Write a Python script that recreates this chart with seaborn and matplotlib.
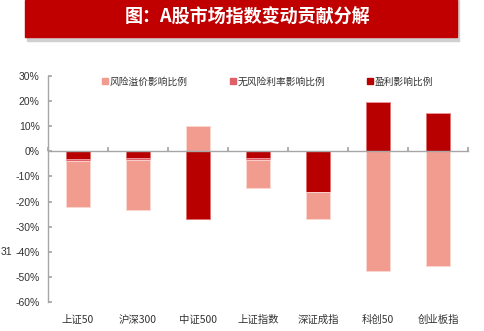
import numpy as np
import pandas as pd
import matplotlib
matplotlib.use("Agg")
import matplotlib.pyplot as plt
from matplotlib.patches import Rectangle
import seaborn as sns

sns.set_theme(style="white")
plt.rcParams["font.family"] = ["Noto Sans CJK SC", "DejaVu Sans"]

# Index names and the contribution of each factor (%)
categories = ["上证50", "沪深300", "中证500", "上证指数", "深证成指", "科创50", "创业板指"]
risk_premium = [-18.3, -19.9, 10.2, -11.1, -10.6, -47.8, -45.8]
risk_free = [-0.8, -0.8, 0.0, -0.8, -0.2, 0.0, 0.0]
earnings = [-3.2, -2.7, -27.1, -2.7, -16.0, 19.5, 15.3]
series_names = ["风险溢价影响比例", "无风险利率影响比例", "盈利影响比例"]
y_ticks = [30, 20, 10, 0, -10, -20, -30, -40, -50, -60]

colors = {"风险溢价影响比例": "#F19C8E",
          "无风险利率影响比例": "#E0606A",
          "盈利影响比例": "#B80000"}
edges = {"风险溢价影响比例": "#FBD8D2",
         "无风险利率影响比例": "#EE9AA0",
         "盈利影响比例": "#E07070"}

fig = plt.figure(figsize=(4.84, 3.31), dpi=100)
ax = fig.add_axes([48 / 484, 1 - 302 / 331, 420 / 484, 226 / 331])

# Stack positives upward and negatives downward, earnings nearest zero
stack_order = [("盈利影响比例", earnings),
               ("无风险利率影响比例", risk_free),
               ("风险溢价影响比例", risk_premium)]
pos = np.zeros(len(categories))
neg = np.zeros(len(categories))
for name, vals in stack_order:
    v = np.array(vals, dtype=float)
    bottom = np.where(v >= 0, pos, neg)
    df = pd.DataFrame({"指数": categories, "值": v})
    sns.barplot(data=df, x="指数", y="值", bottom=bottom, color=colors[name],
                width=0.4, edgecolor=edges[name], linewidth=0.6,
                saturation=1, ax=ax, zorder=2)
    pos = pos + np.where(v >= 0, v, 0)
    neg = neg + np.where(v < 0, v, 0)

ax.set_xlim(-0.5, len(categories) - 0.5)
ax.set_ylim(-60, 30)
ax.set_yticks(y_ticks)
ax.set_yticklabels([f"{t}%" for t in y_ticks], fontsize=7.5, color="#333333",
                   family=["Liberation Sans", "DejaVu Sans"])
ax.set_xlabel("")
ax.set_ylabel("")

for s in ["top", "right"]:
    ax.spines[s].set_visible(False)
ax.spines["left"].set_color("#A6A6A6")
ax.spines["left"].set_linewidth(1.0)
ax.spines["bottom"].set_position(("data", 0))
ax.spines["bottom"].set_color("#A6A6A6")
ax.spines["bottom"].set_linewidth(1.0)
ax.spines["bottom"].set_zorder(3)

ax.tick_params(axis="y", direction="in", length=3, color="#A6A6A6", pad=6, left=True)
ax.set_xticks(np.arange(-0.5, len(categories) + 0.5, 1))
ax.set_xticklabels([])
ax.tick_params(axis="x", direction="in", length=3, color="#A6A6A6", bottom=True)

sec = ax.secondary_xaxis("bottom")
sec.set_xticks(range(len(categories)))
sec.set_xticklabels(categories, fontsize=7.5, color="#333333")
sec.tick_params(length=0, pad=9)
sec.spines["bottom"].set_visible(False)

# Legend along the top of the plot
handles = [Rectangle((0, 0), 1, 1, color=colors[n]) for n in series_names]
leg = ax.legend(handles, series_names, loc="upper left", bbox_to_anchor=(0.12, 1.015),
                ncol=3, frameon=False, fontsize=7, handlelength=0.6, handleheight=0.6,
                handletextpad=0.2, columnspacing=4.3, borderaxespad=0.0)
for t in leg.get_texts():
    t.set_color("#333333")

# Title banner
fig.patches.append(Rectangle((27 / 484, 1 - 41 / 331), 432 / 484, 41 / 331,
                             transform=fig.transFigure, color="#D0D0D0", zorder=0))
fig.patches.append(Rectangle((25 / 484, 1 - 37 / 331), 432 / 484, 37 / 331,
                             transform=fig.transFigure, color="#C00000", zorder=1))
fig.text(248 / 484, 1 - 17 / 331, "图：A股市场指数变动贡献分解", color="white",
         fontsize=13, fontweight="bold", ha="center", va="center",
         family=["Noto Sans CJK SC", "DejaVu Sans"])

fig.text(1 / 484, 1 - 252 / 331, "31", fontsize=7.5, color="#333333",
         ha="left", va="center", family=["Liberation Sans", "DejaVu Sans"])

fig.savefig("out.png", dpi=100)
